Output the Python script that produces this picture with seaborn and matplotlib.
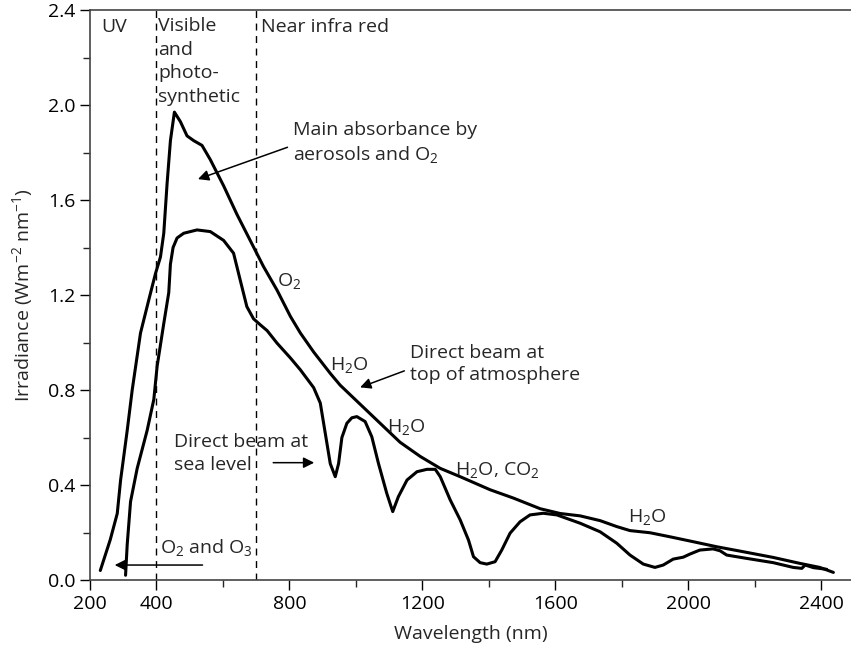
#%% ---- Load Packages ----
import numpy as np
import pandas as pd
import matplotlib
matplotlib.use("Agg")
import matplotlib.pyplot as plt
import seaborn as sns

# %% ---- Data ----
toa_nm = [231, 261, 282, 292, 312, 327, 352, 377, 397, 412, 422, 432, 442, 454,
          472, 492, 512, 537, 562, 602, 642, 682, 722, 763, 803, 833, 873, 923,
          953, 1013, 1073, 1133, 1194, 1254, 1314, 1404, 1474, 1555, 1615, 1675,
          1735, 1785, 1825, 1885, 1945, 2016, 2086, 2166, 2256, 2336, 2396, 2437]
toa_val = [0.04, 0.17, 0.28, 0.42, 0.63, 0.80, 1.04, 1.18, 1.29, 1.36, 1.46, 1.67, 1.85, 1.97,
           1.93, 1.87, 1.85, 1.83, 1.77, 1.66, 1.54, 1.43, 1.32, 1.22, 1.11, 1.04, 0.96, 0.87,
           0.82, 0.74, 0.66, 0.58, 0.52, 0.47, 0.435, 0.38, 0.345, 0.30, 0.28, 0.27,
           0.25, 0.225, 0.208, 0.199, 0.182, 0.161, 0.14, 0.119, 0.095, 0.07, 0.053, 0.032]

sl_nm = [307, 312, 322, 342, 372, 392, 402, 422, 437, 442, 450, 462, 482, 522, 562,
         602, 632, 652, 672, 692, 712, 733, 763, 803, 833, 873, 893, 903, 913, 923,
         938, 948, 958, 973, 988, 1003, 1028, 1048, 1068, 1093, 1111, 1128, 1154,
         1184, 1214, 1239, 1254, 1284, 1314, 1339, 1354, 1374, 1394, 1419, 1439,
         1464, 1494, 1524, 1564, 1605, 1675, 1735, 1785, 1825, 1865, 1900, 1925,
         1955, 1985, 2005, 2035, 2075, 2096, 2116, 2176, 2256, 2316, 2342, 2352,
         2377, 2417]
sl_val = [0.02, 0.15, 0.33, 0.47, 0.63, 0.76, 0.90, 1.08, 1.21, 1.33, 1.40, 1.44, 1.46, 1.474, 1.467,
          1.43, 1.376, 1.263, 1.151, 1.10, 1.075, 1.05, 0.997, 0.935, 0.885, 0.81, 0.745, 0.66, 0.575, 0.49,
          0.435, 0.49, 0.60, 0.66, 0.683, 0.688, 0.667, 0.603, 0.491, 0.365, 0.288, 0.351, 0.421,
          0.456, 0.466, 0.466, 0.435, 0.337, 0.253, 0.168, 0.098, 0.073, 0.067, 0.077, 0.126,
          0.197, 0.245, 0.274, 0.281, 0.274, 0.239, 0.203, 0.155, 0.105, 0.067, 0.053, 0.063,
          0.088, 0.096, 0.109, 0.126, 0.131, 0.123, 0.105, 0.091, 0.073, 0.053, 0.049, 0.063,
          0.052, 0.045]

band_edges = [400, 700]
x_major = [200, 400, 800, 1200, 1600, 2000, 2400]
x_minor = [600, 1000, 1400, 1800, 2200]
y_major = [0.0, 0.4, 0.8, 1.2, 1.6, 2.0, 2.4]
y_minor = [0.2, 0.6, 1.0, 1.4, 1.8, 2.2]

spectra = pd.concat([
    pd.DataFrame({"nm": toa_nm, "irr": toa_val, "beam": "top"}),
    pd.DataFrame({"nm": sl_nm, "irr": sl_val, "beam": "sea"}),
])

# %% ---- Plot ----
sns.set_style("ticks")
plt.rcParams["font.family"] = ["Open Sans", "DejaVu Sans"]
plt.rcParams["mathtext.fontset"] = "custom"
plt.rcParams["mathtext.rm"] = "Open Sans"
plt.rcParams["mathtext.it"] = "Open Sans"

fig = plt.figure(figsize=(8.51, 6.5), dpi=100)
ax = fig.add_axes([90 / 851, 70 / 650, 761 / 851, 570 / 650])

sns.lineplot(data=spectra, x="nm", y="irr", units="beam", estimator=None,
             sort=False, color="black", lw=2.2, ax=ax)

for e in band_edges:
    ax.axvline(e, color="black", lw=1, dashes=(5, 4))

ax.set_xlim(200, 2490)
ax.set_ylim(0, 2.4)
ax.set_xticks(x_major)
ax.set_xticks(x_minor, minor=True)
ax.set_yticks(y_major)
ax.set_yticks(y_minor, minor=True)
ax.set_yticklabels([f"{v:.1f}" for v in y_major])
ax.tick_params(which="major", length=7, width=1, labelsize=14, colors="black")
ax.tick_params(which="minor", length=5, width=1)
ax.spines["right"].set_visible(False)
for s in ["left", "bottom", "top"]:
    ax.spines[s].set_linewidth(1.2)
    ax.spines[s].set_color("#444444")

ax.set_xlabel("Wavelength (nm)", fontsize=14, labelpad=9)
ax.set_ylabel("Irradiance (Wm$^{-2}$ nm$^{-1}$)", fontsize=14, labelpad=9)

fs = 14
ls = 1.3
ax.text(233, 2.33, "UV", fontsize=fs, va="center")
ax.text(406, 2.37, "Visible\nand\nphoto-\nsynthetic", fontsize=fs, va="top", linespacing=1.4)
ax.text(715, 2.33, "Near infra red", fontsize=fs, va="center")

arrow = dict(arrowstyle="-|>", color="black", lw=1.1, mutation_scale=16)
ax.annotate("Main absorbance by\naerosols and O$_2$", xy=(517, 1.684), xytext=(812, 1.84),
            fontsize=fs, va="center", linespacing=ls,
            arrowprops=dict(arrow, relpos=(0, 0.45)))
ax.text(764, 1.26, "O$_2$", fontsize=fs, va="center")
ax.text(923, 0.905, "H$_2$O", fontsize=fs, va="center")
ax.annotate("Direct beam at\ntop of atmosphere", xy=(1005, 0.807), xytext=(1164, 0.91),
            fontsize=fs, va="center", linespacing=ls,
            arrowprops=dict(arrow, relpos=(-0.02, 0.35)))
ax.text(1093, 0.644, "H$_2$O", fontsize=fs, va="center")
ax.text(1299, 0.463, "H$_2$O, CO$_2$", fontsize=fs, va="center")
ax.text(1818, 0.265, "H$_2$O", fontsize=fs, va="center")
ax.text(452, 0.533, "Direct beam at\nsea level", fontsize=fs, va="center", linespacing=ls)
ax.annotate("", xy=(883, 0.494), xytext=(743, 0.494), arrowprops=arrow)
ax.annotate("", xy=(266, 0.063), xytext=(547, 0.063), arrowprops=arrow)
ax.text(412, 0.135, "O$_2$ and O$_3$", fontsize=fs, va="center")

fig.savefig("out.png", dpi=100)
